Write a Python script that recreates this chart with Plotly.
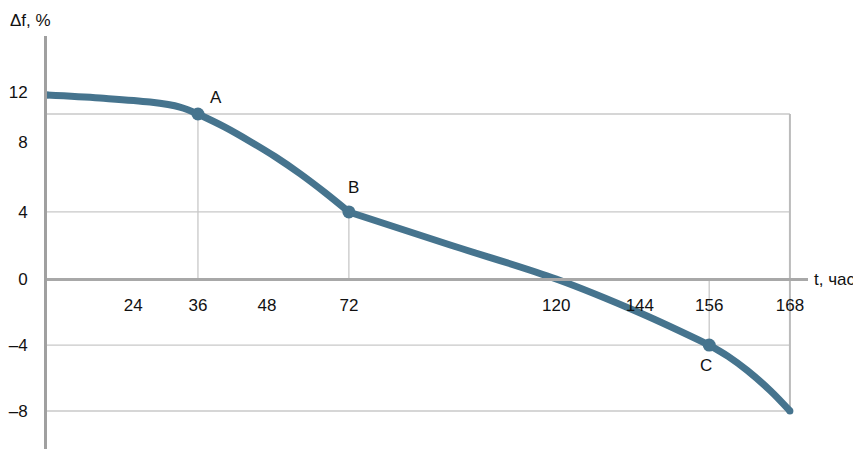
import plotly.graph_objects as go

# Curve segments (schematic axis units: x ~ hours on a distorted scale, y ~ Δf, %)
seg1_x = [0, 12.6, 24.5, 31.6, 35.9]
seg1_y = [11.08, 10.9, 10.66, 10.36, 9.94]
seg2_x = [35.9, 42.3, 48.3, 54.2, 60.2, 66.1, 71.8]
seg2_y = [9.94, 9.15, 8.29, 7.38, 6.34, 5.21, 4.04]
seg3_x = [71.8, 95.9, 121.1, 141.1, 157.5]
seg3_y = [4.04, 2.05, 0.0, -2.05, -3.98]
seg4_x = [157.5, 162.0, 166.5, 172.0, 176.7]
seg4_y = [-3.98, -4.66, -5.5, -6.72, -7.95]

# Key points A, B, C
pt_names = ["A", "B", "C"]
pt_x = [35.9, 71.8, 157.5]
pt_y = [9.94, 4.04, -3.98]

# Tick labels and their positions on the schematic axes
x_tick_text = ["24", "36", "48", "72", "120", "144", "156", "168"]
x_tick_pos = [20.5, 35.9, 52.3, 71.8, 121.1, 141.0, 157.5, 176.7]
y_tick_text = ["12", "8", "4", "0", "–4", "–8"]
y_tick_pos = [11.27, 8.25, 4.04, 0, -3.98, -7.95]

X_RANGE = [0, 181]
Y_RANGE = [-10.24, 14.64]
end_x = seg4_x[-1]
end_y = seg4_y[-1]

LINE_COLOR = "#46748E"
GRID = "#c8c8c8"
FONT = "Liberation Sans, Arial, sans-serif"

fig = go.Figure()
for sx, sy in [(seg1_x, seg1_y), (seg2_x, seg2_y), (seg3_x, seg3_y), (seg4_x, seg4_y)]:
    fig.add_trace(go.Scatter(x=sx, y=sy, mode="lines",
                             line=dict(color=LINE_COLOR, width=7, shape="spline", smoothing=1.0),
                             hoverinfo="skip", showlegend=False))
fig.add_trace(go.Scatter(x=pt_x, y=pt_y, mode="markers",
                         marker=dict(color=LINE_COLOR, size=13),
                         showlegend=False))
# rounded ends of the curve
fig.add_trace(go.Scatter(x=[seg1_x[0], end_x], y=[seg1_y[0], end_y], mode="markers",
                         marker=dict(color=LINE_COLOR, size=7),
                         hoverinfo="skip", showlegend=False))

shapes = []
def hline(y, x0, x1, color=GRID, w=1.3):
    shapes.append(dict(type="line", xref="x", yref="y", x0=x0, x1=x1, y0=y, y1=y,
                       line=dict(color=color, width=w), layer="below"))
def vline(x, y0, y1, color=GRID, w=1.3):
    shapes.append(dict(type="line", xref="x", yref="y", x0=x, x1=x, y0=y0, y1=y1,
                       line=dict(color=color, width=w), layer="below"))

hline(pt_y[0], 0, end_x)
hline(pt_y[1], 0, end_x)
hline(pt_y[2], 0, end_x)
hline(end_y, 0, end_x)
vline(pt_x[0], 0, pt_y[0])
vline(pt_x[1], 0, pt_y[1])
vline(pt_x[2], pt_y[2], 0)
vline(end_x, end_y, pt_y[0], color="#bbbbbb", w=2)

# page is rendered with an 8px body margin
OFF = 8
W, H = 853, 441
ML, MR, MT, MB = 39, 53, 28, 0
pw = W - ML - MR
ph = H - MT - MB

def px_to_paper_x(px):
    return (px - OFF - ML) / pw

def py_to_paper_y(py):
    return (OFF + H - MB - py) / ph

annotations = []
label_dx = [4.2, 1.2, -0.8]
label_dy = [1.0, 1.45, -1.2]
for n, x, y, dx, dy in zip(pt_names, pt_x, pt_y, label_dx, label_dy):
    annotations.append(dict(x=x + dx, y=y + dy, xref="x", yref="y", text=n,
                            showarrow=False, font=dict(size=17, color="#111", family=FONT)))
annotations.append(dict(x=px_to_paper_x(8), y=py_to_paper_y(20), xref="paper", yref="paper",
                        text="Δf, %", showarrow=False, xanchor="left", yanchor="middle",
                        font=dict(size=17, color="#111", family=FONT)))
annotations.append(dict(x=px_to_paper_x(812), y=0, xref="paper", yref="y", text="t, час",
                        showarrow=False, xanchor="left", yanchor="middle",
                        font=dict(size=17, color="#111", family=FONT)))

zero_pos = (0 - Y_RANGE[0]) / (Y_RANGE[1] - Y_RANGE[0])

fig.update_layout(
    width=W, height=H,
    margin=dict(l=ML, r=MR, t=MT, b=MB, pad=0),
    paper_bgcolor="white", plot_bgcolor="white",
    font=dict(family=FONT, size=17, color="#111"),
    xaxis=dict(range=X_RANGE, tickvals=x_tick_pos, ticktext=x_tick_text,
               showgrid=False, zeroline=False, showline=True, linecolor="#a8a8a8",
               linewidth=2.5, ticks="", anchor="free", position=zero_pos,
               ticklabelstandoff=10, fixedrange=True),
    yaxis=dict(range=Y_RANGE, tickvals=y_tick_pos, ticktext=y_tick_text,
               showgrid=False, zeroline=False, showline=True, linecolor="#a0a0a0",
               linewidth=3, ticks="", ticklabelstandoff=13, fixedrange=True),
    shapes=shapes, annotations=annotations,
)

fig.write_html("out.html")
